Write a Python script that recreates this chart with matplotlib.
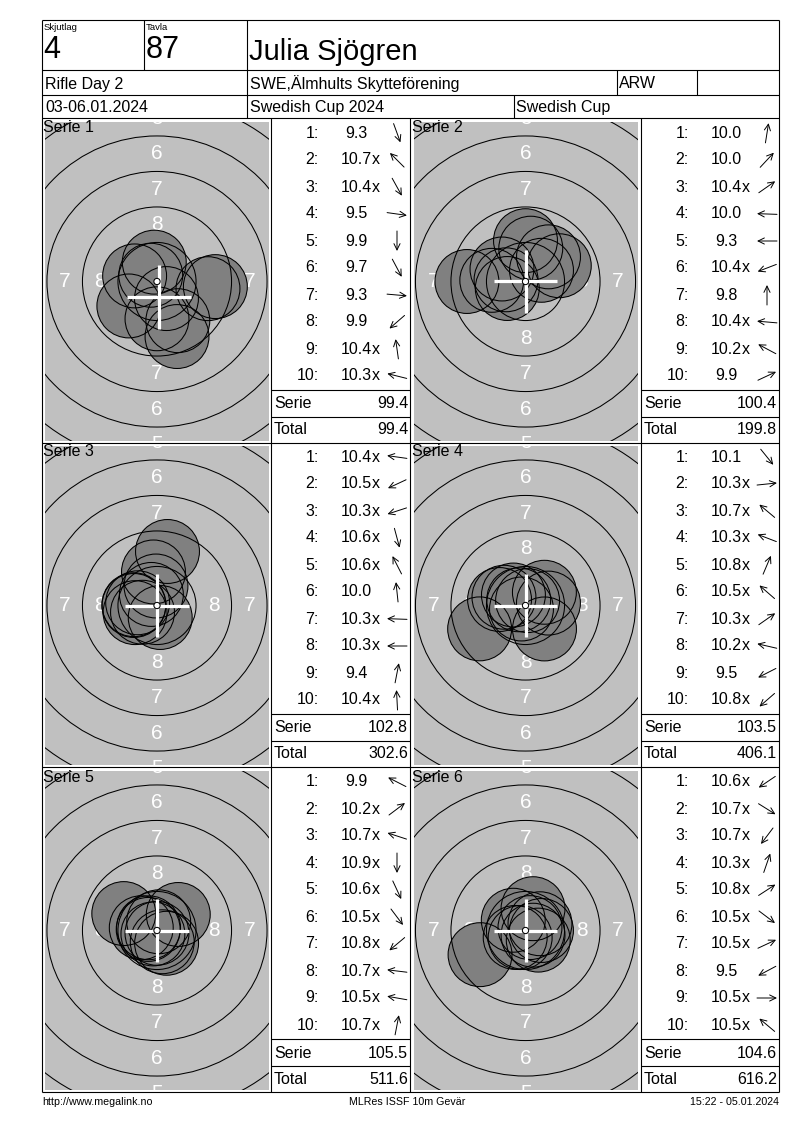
import numpy as np
import matplotlib
matplotlib.use("Agg")
import matplotlib.pyplot as plt
from matplotlib.patches import Circle, FancyArrowPatch

plt.rcParams['font.family'] = ['Liberation Sans', 'DejaVu Sans']

# header info
relay = "4"
lane = "87"
shooter = "Julia Sjögren"
event = "Rifle Day 2"
club = "SWE,Älmhults Skytteförening"
klass = "ARW"
dates = "03-06.01.2024"
competition = "Swedish Cup 2024"
cup = "Swedish Cup"
footer_left = "http://www.megalink.no"
footer_mid = "MLRes ISSF 10m Gevär"
footer_right = "15:22 - 05.01.2024"

# shots per series, as printed
serie1 = ["9.3", "10.7x", "10.4x", "9.5", "9.9", "9.7", "9.3", "9.9", "10.4x", "10.3x"]
serie2 = ["10.0", "10.0", "10.4x", "10.0", "9.3", "10.4x", "9.8", "10.4x", "10.2x", "9.9"]
serie3 = ["10.4x", "10.5x", "10.3x", "10.6x", "10.6x", "10.0", "10.3x", "10.3x", "9.4", "10.4x"]
serie4 = ["10.1", "10.3x", "10.7x", "10.3x", "10.8x", "10.5x", "10.3x", "10.2x", "9.5", "10.8x"]
serie5 = ["9.9", "10.2x", "10.7x", "10.9x", "10.6x", "10.5x", "10.8x", "10.7x", "10.5x", "10.7x"]
serie6 = ["10.6x", "10.7x", "10.7x", "10.3x", "10.8x", "10.5x", "10.5x", "9.5", "10.5x", "10.5x"]

# shot direction from centre (deg, ccw from right)
dir1 = [-70, 135, -61, -8, -90, -62, -5, -139, 98, 166]
dir2 = [81, 47, 35, 178, 180, -159, 90, 175, 152, 25]
dir3 = [172, -155, -162, -75, 117, 96, 178, 180, 79, 93]
dir4 = [-51, 6, 140, 159, 67, 139, 35, 167, -153, -139]
dir5 = [153, 37, 162, -90, -65, -53, -140, 173, 170, 79]
dir6 = [-146, -32, -127, 71, 33, -37, 25, -152, 0, 140]

serie_sums = [99.4, 100.4, 102.8, 103.5, 105.5, 104.6]
running_totals = [99.4, 199.8, 302.6, 406.1, 511.6, 616.2]

# white cross position per series (mm from centre)
cross_x = [0.12, 0, 0, 0, 0, 0]
cross_y = [-1.06, 0, 0, 0, 0, 0]

series = [serie1, serie2, serie3, serie4, serie5, serie6]
directions = [dir1, dir2, dir3, dir4, dir5, dir6]

# geometry
W, H = 800, 1130
PX = 14.2          # pixels per mm on the target
PELLET = 2.25      # pellet radius mm
rings = {n: 0.25 + (10 - n) * 2.5 for n in range(4, 10)}
row_off = [0, 324, 649]
target_cx = [157, 525.5]
col_left = [271, 641]
col_right = [410, 779]
half_w, half_h = 112 / PX, 159.5 / PX

fig = plt.figure(figsize=(W / 100, H / 100), dpi=100)
ax = fig.add_axes([0, 0, 1, 1])
ax.set_xlim(0, W)
ax.set_ylim(H, 0)
ax.axis('off')
ax.set_zorder(5)

LW = 0.8


def hline(y, x0, x1):
    ax.plot([x0, x1], [y, y], color='black', lw=LW, solid_capstyle='butt')


def vline(x, y0, y1):
    ax.plot([x, x], [y0, y1], color='black', lw=LW, solid_capstyle='butt')


# frame and header grid
L, R, T, B = 42, 779, 20, 1092
for y in [T, 70, 95, 118, 443, 767, B]:
    hline(y, L, R)
vline(L, T, B)
vline(R, T, B)
vline(144, T, 70)
vline(247, T, 118)
vline(617, 70, 95)
vline(697, 70, 95)
vline(514, 95, 118)
for x in [271, 410, 641]:
    vline(x, 118, B)

ax.text(44, 27, "Skjutlag", fontsize=6.8, va='center')
ax.text(146, 27, "Tavla", fontsize=6.8, va='center')
ax.text(43, 50.5, relay, fontsize=22, va='center')
ax.text(146, 50.5, lane, fontsize=22, va='center')
ax.text(249, 52, shooter, fontsize=21, va='center')
ax.text(45, 84, event, fontsize=11.5, va='center')
ax.text(250, 84, club, fontsize=11.5, va='center')
ax.text(619, 84, klass, fontsize=11.5, va='center')
ax.text(45, 107.5, dates, fontsize=11.5, va='center')
ax.text(250, 107.5, competition, fontsize=11.5, va='center')
ax.text(516, 107.5, cup, fontsize=11.5, va='center')

ax.text(42, 1102, footer_left, fontsize=7.7, va='center')
ax.text(407, 1102, footer_mid, fontsize=7.7, va='center', ha='center')
ax.text(779, 1102, footer_right, fontsize=7.7, va='center', ha='right')

for i, shots in enumerate(series):
    r, c = divmod(i, 2)
    off = row_off[r]
    cx = target_cx[c]
    cy = 281.5 + off

    # target panel in mm coordinates
    tx = fig.add_axes([(cx - 112) / W, 1 - (cy + 159.5) / H, 224 / W, 319 / H])
    tx.set_xlim(-half_w, half_w)
    tx.set_ylim(-half_h, half_h)
    tx.set_facecolor('#c0c0c0')
    tx.set_xticks([])
    tx.set_yticks([])
    for s in tx.spines.values():
        s.set_visible(False)

    # ring numbers (only where they reach into the panel)
    for n in [8, 7, 6, 5]:
        rr = (rings[n] + (rings[n + 1] if n < 9 else 0.25)) / 2
        for (ux, uy) in [(0, 1), (0, -1), (1, 0), (-1, 0)]:
            if abs(ux * rr) > half_w or abs(uy * rr) > half_h + 0.4:
                continue
            tx.text(ux * rr, uy * rr, str(n), color='white', fontsize=15,
                    ha='center', va='center', clip_on=True, zorder=1)

    vals = np.array([float(s.rstrip('x')) for s in shots])
    ang = np.radians(directions[i])
    dist = np.clip((10.95 - vals) * 2.5, 0.2, None)
    xs = dist * np.cos(ang)
    ys = dist * np.sin(ang)

    for x, y in zip(xs, ys):
        tx.add_patch(Circle((x, y), PELLET, fc='#808080', ec='none', zorder=2))
    for n, rad in rings.items():
        tx.add_patch(Circle((0, 0), rad, fill=False, ec='black', lw=0.75, zorder=3))
    for x, y in zip(xs, ys):
        tx.add_patch(Circle((x, y), PELLET, fill=False, ec='black', lw=0.75, zorder=4))

    mx, my = cross_x[i], cross_y[i]
    tx.plot([mx - PELLET, mx + PELLET], [my, my], color='white', lw=2.3,
            solid_capstyle='butt', zorder=5)
    tx.plot([mx, mx], [my - PELLET, my + PELLET], color='white', lw=2.3,
            solid_capstyle='butt', zorder=5)
    tx.add_patch(Circle((0, 0), 0.22, fc='white', ec='black', lw=0.75, zorder=6))

    ax.text(cx - 114, 128 + off, f"Serie {i + 1}", fontsize=11.5, va='center')

    # shot list
    x0, x1 = col_left[c], col_right[c]
    for k, lab in enumerate(shots):
        y = 133 + 27 * k + off
        ax.text(x0 + 48, y, f"{k + 1}:", fontsize=11.5, ha='right', va='center')
        t = ax.text(x0 + 85.5, y, lab.rstrip('x'), fontsize=11.5, ha='center', va='center')
        if lab.endswith('x'):
            ax.annotate('x', xy=(1, 0), xycoords=t, fontsize=11.5, ha='left', va='bottom')
        a = np.radians(directions[i][k])
        dx, dy = 10 * np.cos(a), -10 * np.sin(a)
        ax.add_patch(FancyArrowPatch((x0 + 126 - dx, y - dy), (x0 + 126 + dx, y + dy),
                                     arrowstyle='->,head_length=4.5,head_width=2.2',
                                     mutation_scale=1, lw=0.7, color='black',
                                     shrinkA=0, shrinkB=0))

    hline(390 + off, x0, x1)
    hline(417 + off, x0, x1)
    ax.text(x0 + 3, 404 + off, "Serie", fontsize=11.5, va='center')
    ax.text(x1 - 2, 404 + off, f"{serie_sums[i]:.1f}", fontsize=11.5, va='center', ha='right')
    ax.text(x0 + 3, 430 + off, "Total", fontsize=11.5, va='center')
    ax.text(x1 - 2, 430 + off, f"{running_totals[i]:.1f}", fontsize=11.5, va='center', ha='right')

fig.savefig("out.png", dpi=100)
